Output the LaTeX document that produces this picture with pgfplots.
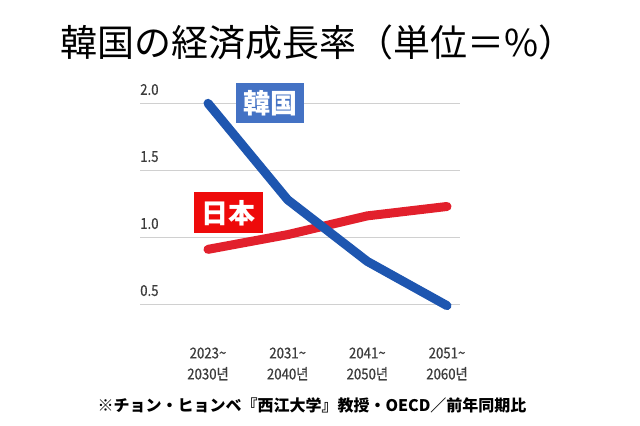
\documentclass[border=0pt]{standalone}
\usepackage{fontspec}
\setmainfont{Noto Sans CJK JP}
\newfontfamily\krfont[FakeStretch=0.88,FakeBold=0.6]{Noto Sans CJK KR}
\usepackage{pgfplots}
\pgfplotsset{compat=1.18}
\definecolor{korblue}{HTML}{1E56B0}
\definecolor{jpred}{HTML}{E2202C}
\definecolor{boxblue}{HTML}{4472C4}
\definecolor{boxred}{HTML}{EE0A0A}
\definecolor{gridgray}{HTML}{D0D0D0}
\definecolor{tickgray}{HTML}{3C3C3C}
\begin{document}
\begin{tikzpicture}
\begin{axis}[
 x=79.67bp, y=134bp,
 xmin=-0.853, xmax=3.163, ymin=0.5, ymax=2.0,
 clip=false,
 axis line style={draw=none},
 tick style={draw=none},
 ymajorgrids, grid style={gridgray, line width=1.2bp},
 ytick={0.5,1,1.5,2}, yticklabels={0.5,1.0,1.5,2.0},
 yticklabel style={anchor=south west, inner sep=0pt, yshift=8bp, font=\krfont\fontsize{15bp}{15bp}\selectfont, text=tickgray},
 xtick={0,1,2,3},
 xticklabels={2023\textasciitilde\\2030년,2031\textasciitilde\\2040년,2041\textasciitilde\\2050년,2051\textasciitilde\\2060년},
 xticklabel style={align=center, anchor=north, inner sep=0pt, yshift=-43bp, font=\krfont\fontsize{15bp}{21bp}\selectfont, text=tickgray},
]
\addplot[jpred, line width=9bp, line cap=round, line join=round] coordinates {(0,0.91)(1,1.02)(2,1.16)(3,1.23)};
\addplot[korblue, line width=9bp, line cap=round, line join=round] coordinates {(0,2.0)(1,1.28)(2,0.82)(3,0.49)};
\coordinate (TL) at (axis cs:-2.6108,2.7709);
\end{axis}
\pgfresetboundingbox
\path[use as bounding box] (TL) rectangle ([shift={(640bp,-426bp)}]TL);
\node[fill=boxblue, text=white, minimum width=68bp, minimum height=40bp, inner sep=0pt, font=\bfseries\fontsize{27bp}{27bp}\selectfont] at ([shift={(270bp,-103bp)}]TL) {韓国};
\node[fill=boxred, text=white, minimum width=69bp, minimum height=41bp, inner sep=0pt, font=\bfseries\fontsize{27bp}{27bp}\selectfont] at ([shift={(228.5bp,-213bp)}]TL) {日本};
\node[font=\fontsize{37bp}{37bp}\selectfont] at ([shift={(318bp,-42bp)}]TL) {韓国の経済成長率（単位＝\%）};
\node[font=\bfseries\fontsize{16bp}{16bp}\selectfont] at ([shift={(312bp,-405bp)}]TL) {※チョン・ヒョンベ『西江大学』教授・OECD／前年同期比};
\end{tikzpicture}
\end{document}
